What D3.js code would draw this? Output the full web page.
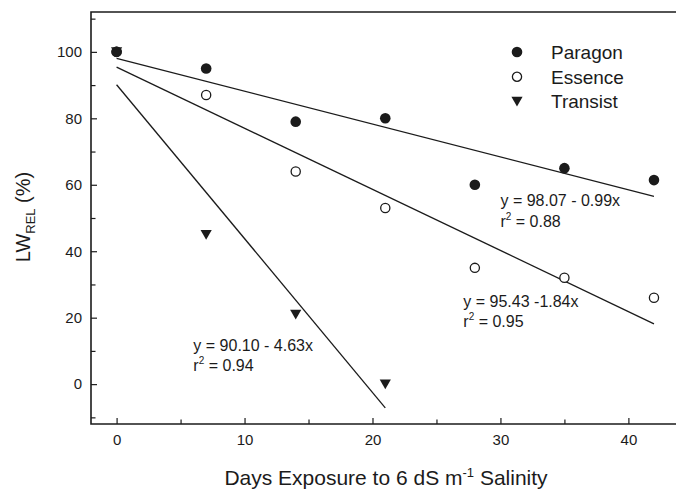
<!DOCTYPE html>
<html>
<head>
<meta charset="utf-8">
<script src="https://cdn.jsdelivr.net/npm/d3@7"></script>
<style>
  body { margin: 0; background: #fff; }
  svg { display: block; font-family: Arial, "Liberation Sans", Helvetica, sans-serif; }
</style>
</head>
<body>
<svg id="chart"></svg>
<script>
const w = 676;
const h = 489;

// days of exposure
const days = [0, 7, 14, 21, 28, 35, 42];
const transistDays = [0, 7, 14, 21];

// LW_REL (%)
const paragon = [100, 95, 79, 80, 60, 65, 61.4];
const essence = [100, 87, 64, 53, 35, 32, 26];
const transist = [100, 45, 21, 0];

// fitted lines: intercept, slope, x range
const fitNames = ['Paragon', 'Essence', 'Transist'];
const fitIntercepts = [98.07, 95.43, 90.10];
const fitSlopes = [-0.99, -1.84, -4.63];
const fitEnds = [42, 42, 21];
const fitLabels = ['y = 98.07 - 0.99x', 'y = 95.43 -1.84x', 'y = 90.10 - 4.63x'];
const fitR2 = ['0.88', '0.95', '0.94'];
// where each equation is written (data units: day, %)
const fitLabelPos = [[30, 53.6], [27.1, 23.3], [6, 10]];

const xTicks = [0, 10, 20, 30, 40];
const xMinor = [5, 15, 25, 35, 45];
const yTicks = [0, 20, 40, 60, 80, 100];
const yMinor = [-10, 10, 30, 50, 70, 90, 110];

const ink = '#1b1b1b';

const svg = d3.select('#chart')
    .attr('width', w)
    .attr('height', h);

const x = d3.scaleLinear().domain([-2, 46]).range([91, 91 + 48 * 12.795]);
const y = d3.scaleLinear().domain([-12, 112]).range([424, 12]);

//minor ticks first, then major ticks with labels
svg.append('g')
    .attr('transform', `translate(${x(-2)},0)`)
    .call(d3.axisLeft(y).tickValues(yMinor).tickSize(-4.5).tickFormat(''))
    .call(g => g.select('.domain').remove());
svg.append('g')
    .attr('transform', `translate(0,${y(-12)})`)
    .call(d3.axisBottom(x).tickValues(xMinor).tickSize(-4.5).tickFormat(''))
    .call(g => g.select('.domain').remove());

const yAxis = svg.append('g')
    .attr('transform', `translate(${x(-2)},0)`)
    .call(d3.axisLeft(y).tickValues(yTicks).tickSize(-6).tickPadding(9))
    .call(g => g.select('.domain').remove());
yAxis.selectAll('text').style('font-size', '15px').attr('fill', ink);

const xAxis = svg.append('g')
    .attr('transform', `translate(0,${y(-12)})`)
    .call(d3.axisBottom(x).tickValues(xTicks).tickSize(-6).tickPadding(10))
    .call(g => g.select('.domain').remove());
xAxis.selectAll('text').style('font-size', '15px').attr('fill', ink);

svg.selectAll('.tick line').attr('stroke', ink).attr('stroke-width', 1.2);

//frame: left, bottom and top (right side runs past the picture)
const frame = d3.path();
frame.moveTo(x(46), y(112));
frame.lineTo(x(-2), y(112));
frame.lineTo(x(-2), y(-12));
frame.lineTo(x(46), y(-12));
svg.append('path')
    .attr('d', frame.toString())
    .attr('fill', 'none')
    .attr('stroke', ink)
    .attr('stroke-width', 1.6);

//regression lines
const fits = fitNames.map((n, i) => ({
    name: n,
    pts: [[0, fitIntercepts[i]], [fitEnds[i], fitIntercepts[i] + fitSlopes[i] * fitEnds[i]]]
}));
const line = d3.line().x(d => x(d[0])).y(d => y(d[1]));
svg.selectAll('path.fit')
    .data(fits)
    .enter()
    .append('path')
        .attr('class', 'fit')
        .attr('d', d => line(d.pts))
        .attr('fill', 'none')
        .attr('stroke', ink)
        .attr('stroke-width', 1.3);

//markers
const tri = 'M-5.6,-4.6L5.6,-4.6L0,5.2Z';

svg.selectAll('path.transist')
    .data(transistDays.map((d, i) => [d, transist[i]]))
    .enter()
    .append('path')
        .attr('class', 'transist')
        .attr('d', tri)
        .attr('transform', d => `translate(${x(d[0])},${y(d[1])})`)
        .attr('fill', ink);

svg.selectAll('circle.essence')
    .data(days.map((d, i) => [d, essence[i]]))
    .enter()
    .append('circle')
        .attr('class', 'essence')
        .attr('cx', d => x(d[0]))
        .attr('cy', d => y(d[1]))
        .attr('r', 4.6)
        .attr('fill', '#fff')
        .attr('stroke', ink)
        .attr('stroke-width', 1.3);

svg.selectAll('circle.paragon')
    .data(days.map((d, i) => [d, paragon[i]]))
    .enter()
    .append('circle')
        .attr('class', 'paragon')
        .attr('cx', d => x(d[0]))
        .attr('cy', d => y(d[1]))
        .attr('r', 5.3)
        .attr('fill', ink);

//equation labels
fitLabels.forEach((lab, i) => {
    const px = x(fitLabelPos[i][0]);
    const py = y(fitLabelPos[i][1]);
    svg.append('text')
        .attr('x', px).attr('y', py)
        .style('font-size', '16px')
        .attr('fill', ink)
        .text(lab);
    const t = svg.append('text')
        .attr('x', px).attr('y', py + 20.5)
        .style('font-size', '16px')
        .attr('fill', ink);
    t.append('tspan').text('r');
    t.append('tspan').attr('dy', -7).style('font-size', '10px').text('2');
    t.append('tspan').attr('dy', 7).text(' = ' + fitR2[i]);
});

//legend
const legend = svg.append('g').attr('transform', 'translate(517,52)');
fitNames.forEach((n, i) => {
    const g = legend.append('g').attr('transform', `translate(0,${i * 24.7})`);
    if (i === 0) g.append('circle').attr('r', 5.3).attr('fill', ink);
    if (i === 1) g.append('circle').attr('r', 4.6).attr('fill', '#fff').attr('stroke', ink).attr('stroke-width', 1.3);
    if (i === 2) g.append('path').attr('d', tri).attr('fill', ink);
    g.append('text')
        .attr('x', 34).attr('y', 7)
        .style('font-size', '19px')
        .attr('fill', ink)
        .text(n);
});

//axis titles
const xt = svg.append('text')
    .attr('x', 386).attr('y', 485)
    .attr('text-anchor', 'middle')
    .style('font-size', '21px')
    .attr('fill', ink);
xt.append('tspan').text('Days Exposure to 6 dS m');
xt.append('tspan').attr('dy', -8).style('font-size', '13px').text('-1');
xt.append('tspan').attr('dy', 8).text(' Salinity');

const yt = svg.append('text')
    .attr('transform', 'translate(30,217) rotate(-90)')
    .attr('text-anchor', 'middle')
    .style('font-size', '20px')
    .attr('fill', ink);
yt.append('tspan').text('LW');
yt.append('tspan').attr('dy', 5).style('font-size', '13px').text('REL');
yt.append('tspan').attr('dy', -5).text(' (%)');
</script>
</body>
</html>
